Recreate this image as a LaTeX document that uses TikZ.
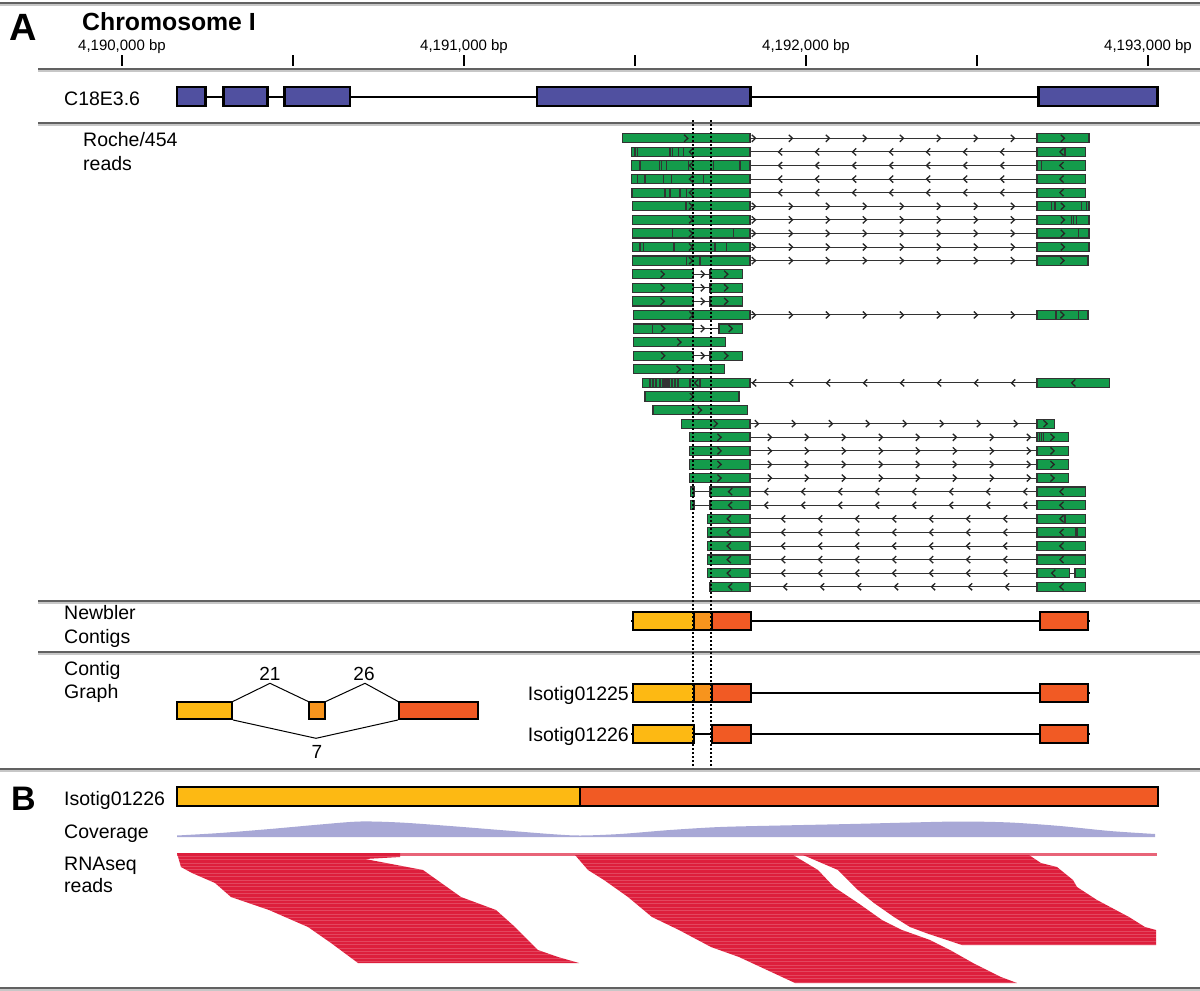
\documentclass[tikz,border=0pt]{standalone}
\usepackage{fontspec}
\setmainfont{Liberation Sans}
\usepackage{xcolor}
\usepackage{tikz}
\usetikzlibrary{positioning, calc}

\definecolor{genebl}{RGB}{80,80,160}
\definecolor{readgr}{RGB}{20,155,75}
\definecolor{cyellow}{RGB}{253,185,19}
\definecolor{corange}{RGB}{247,148,29}
\definecolor{cred}{RGB}{241,90,36}
\definecolor{covpurple}{RGB}{168,168,214}
\definecolor{rnared}{RGB}{221,30,60}
\definecolor{rnapink}{RGB}{232,100,120}

\newcommand{\fs}[1]{\fontsize{#1}{#1}\selectfont}

\begin{document}
\begin{tikzpicture}[x=1pt, y=-1pt,
  sepdark/.style={draw=black!62, line width=2.2},
  seplight/.style={draw=black!22, line width=1.6},
  lbl/.style={font=\fs{19.5}, inner sep=0pt, anchor=base west},
  ticklbl/.style={font=\fs{15}, inner sep=0pt, anchor=base},
  tickmark/.style={line width=2},
  exon/.style={draw=black, line width=2.2, fill=genebl},
  gline/.style={line width=2},
  readbox/.style={draw=black!80, line width=1.1, fill=readgr},
  intron/.style={draw=black!80, line width=1},
  chev/.style={draw=black!85, line width=1.3},
  snpline/.style={draw=black!80, line width=1.1},
  guide/.style={line width=2, dash pattern=on 2pt off 2pt},
  cbox/.style={draw=black, line width=2},
  cline/.style={line width=2},
  gnode/.style={draw=black, line width=1.8, inner sep=0pt, minimum height=16.7pt},
  gedge/.style={line width=1},
  num/.style={font=\fs{19}, inner sep=0pt, anchor=base}
]
\useasboundingbox (0,0) rectangle (1200,991);
\fill[white] (0,0) rectangle (1200,991);

% Panel separators
\foreach \yy/\xs in {3/0, 69/38, 123/38, 601/38, 652/38, 769/0, 988/0} {
  \draw[sepdark] (\xs,\yy) -- (1200,\yy);
  \draw[seplight] (\xs,{\yy+2}) -- (1200,{\yy+2});
}

% Panel letters and title
\node[font=\fs{38}\bfseries, inner sep=0pt, anchor=base west] (pa) at (9,40) {A};
\node[font=\fs{34}\bfseries, inner sep=0pt, anchor=base west] (pb) at (11,810) {B};
\node[font=\fs{24.8}\bfseries, inner sep=0pt, anchor=base west] (chr) at (82,30) {Chromosome I};

% Scale
\foreach \tx in {122,293,464,635,806,977,1148}
  \draw[tickmark] (\tx,55) -- (\tx,66);
\node[ticklbl] (t0) at (122,50) {4,190,000 bp};
\node[ticklbl] (t1) at (464,50) {4,191,000 bp};
\node[ticklbl] (t2) at (806,50) {4,192,000 bp};
\node[ticklbl] (t3) at (1148,50) {4,193,000 bp};

% Gene model
\node[lbl] (gene) at (64,105) {C18E3.6};
\draw[gline] (177,96.5) -- (1157,96.5);
\foreach \a/\b in {177/205.5, 223.5/267.5, 284.5/350, 537/750.5, 1038.5/1157.5}
  \draw[exon] (\a,87) rectangle (\b,106);

% Roche/454 reads
\node[lbl] (roche) at (83,146.7) {Roche/454};
\node[lbl] (roche2) at (83,170) {reads};
\foreach \i/\xa/\xb/\xc/\xd/\dir/\fa/\na in {
  1/622.7/750/1037/1089/1/754/8, 2/631.7/750/1037/1085.7/-1/780/7,
  3/631.7/750/1037/1085.7/-1/780/7, 4/631.7/750/1037/1085.7/-1/780/7,
  5/631.7/750/1037/1085.7/-1/780/7, 6/632.3/750/1037/1089/1/754/8,
  7/632.3/750/1037/1089/1/754/8, 8/632.3/750/1037/1089/1/754/8,
  9/632.3/750/1037/1089/1/754/8, 10/632.3/750/1037/1088/1/754/8,
  11/632.3/693.3/710/742.7/1/703/1, 12/632.3/693.3/710/742.7/1/703/1,
  13/632.3/693.3/710/742.7/1/703/1, 14/633.3/750/1037/1088/1/754/8,
  15/633.3/693.3/719/742.7/1/703/1, 17/633.3/693.3/710/742.7/1/703/1,
  19/642.3/750/1037/1109.3/-1/754/8, 22/681.7/750/1037/1054.3/1/757/8,
  23/689.3/750/1037/1068.3/1/770/8, 24/689.3/750/1037/1068.3/1/770/8,
  25/689.3/750/1037/1068.3/1/770/8, 26/689.3/750/1037/1068.3/1/770/8,
  27/710/750/1037/1085.7/-1/766/8, 28/710/750/1037/1085.7/-1/766/8,
  29/707.3/750/1037/1085.7/-1/783/7, 30/707.3/750/1037/1085.7/-1/783/7,
  31/707.3/750/1037/1085.7/-1/783/7, 32/707.3/750/1037/1085.7/-1/783/7,
  33/707.3/750/1037/1069.3/-1/783/7, 34/710/750/1037/1085.7/-1/785/7} {
  \pgfmathsetmacro{\yy}{138.3+13.59*(\i-1)}
  \draw[intron] (\xb,\yy) -- (\xc,\yy);
  \foreach \k in {1,...,\na} {
    \pgfmathsetmacro{\ax}{\fa+37*(\k-1)}
    \draw[chev] ({\ax-2.2*(\dir)},{\yy-3.5}) -- ({\ax+1.5*(\dir)},\yy) -- ({\ax-2.2*(\dir)},{\yy+3.5});
  }
  \draw[readbox] (\xa,{\yy-4.6}) rectangle (\xb,{\yy+4.6});
  \draw[readbox] (\xc,{\yy-4.6}) rectangle (\xd,{\yy+4.6});
  \pgfmathsetmacro{\ma}{(\xa+\xb)/2}
  \pgfmathsetmacro{\mb}{(\xc+\xd)/2}
  \draw[chev] ({\ma-2.2*(\dir)},{\yy-3.5}) -- ({\ma+1.5*(\dir)},\yy) -- ({\ma-2.2*(\dir)},{\yy+3.5});
  \draw[chev] ({\mb-2.2*(\dir)},{\yy-3.5}) -- ({\mb+1.5*(\dir)},\yy) -- ({\mb-2.2*(\dir)},{\yy+3.5});
}
% unspliced reads
\foreach \i/\xa/\xb in {16/633.3/725.7, 18/633.3/724.3, 20/645/739, 21/652.3/747.7} {
  \pgfmathsetmacro{\yy}{138.3+13.59*(\i-1)}
  \pgfmathsetmacro{\ma}{(\xa+\xb)/2}
  \draw[readbox] (\xa,{\yy-4.6}) rectangle (\xb,{\yy+4.6});
  \draw[chev] ({\ma-2.2},{\yy-3.5}) -- ({\ma+1.5},\yy) -- ({\ma-2.2},{\yy+3.5});
}
% short first blocks
\foreach \i in {27,28} {
  \pgfmathsetmacro{\yy}{138.3+13.59*(\i-1)}
  \draw[intron] (694,\yy) -- (710,\yy);
  \draw[readbox] (690.7,{\yy-4.6}) rectangle (694,{\yy+4.6});
}
\pgfmathsetmacro{\yy}{138.3+13.59*32}
\draw[intron] (1069.3,\yy) -- (1075,\yy);
\draw[readbox] (1075,{\yy-4.6}) rectangle (1085.7,{\yy+4.6});
% mismatches
\foreach \i/\mx in {2/635, 2/637.3, 2/670, 2/672.7, 2/678.3, 2/683.3, 2/1065,
  3/640, 3/659.3, 3/661.7, 3/666.7, 3/688.3, 3/713.3, 3/740, 3/1041.7,
  4/637.3, 4/645, 4/663.3, 4/671.7, 4/703.3,
  5/632.3, 5/665, 5/670, 5/680, 5/686.7,
  6/686, 6/1051.7, 6/1055, 6/1081.7, 6/1086.7,
  7/1071.7, 7/1073.3, 7/1076.7, 8/672.7, 8/733.3, 8/1078.3,
  9/640, 9/643.3, 9/674, 9/715, 9/726.7, 10/686.7, 10/700,
  14/1056, 14/1078.3, 15/652.3,
  19/650, 19/653, 19/656, 19/660, 19/663, 19/665, 19/667, 19/669,
  19/672, 19/675, 19/678, 19/690, 19/700, 21/653.3,
  23/1039.3, 23/1041.7, 23/1043.3, 29/1065, 30/1076, 30/1077} {
  \pgfmathsetmacro{\yy}{138.3+13.59*(\i-1)}
  \draw[snpline] (\mx,{\yy-4.6}) -- (\mx,{\yy+4.6});
}

% Newbler contigs
\node[lbl] (newb) at (64,619) {Newbler};
\node[lbl] (newb2) at (64,643) {Contigs};
% Isotigs
\node[lbl, anchor=base east] (iso5) at (629,700) {Isotig01225};
\node[lbl, anchor=base east] (iso6) at (629,741.5) {Isotig01226};
\foreach \yc/\mid in {621/1, 692.7/1, 734.3/0} {
  \draw[cline] (631,\yc) -- (1090,\yc);
  \draw[cbox, fill=cyellow] (633,{\yc-9}) rectangle (694,{\yc+9});
  \ifnum\mid=1
    \draw[cbox, fill=corange] (694,{\yc-9}) rectangle (711.5,{\yc+9});
  \fi
  \draw[cbox, fill=cred] (711.5,{\yc-9}) rectangle (750.5,{\yc+9});
  \draw[cbox, fill=cred] (1039.5,{\yc-9}) rectangle (1088,{\yc+9});
}

% Contig graph
\node[lbl] (cgr) at (64,675) {Contig};
\node[lbl] (cgr2) at (64,698) {Graph};
\node[gnode, fill=cyellow, minimum width=55pt] (cgA) at (204.5,710.7) {};
\node[gnode, fill=corange, minimum width=16pt] (cgB) at (317,710.7) {};
\node[gnode, fill=cred, minimum width=78.7pt] (cgC) at (438.3,710.7) {};
\coordinate (pk21) at (270,683.3);
\coordinate (pk26) at (365,683.3);
\coordinate (pk7) at (316,738.3);
\draw[gedge] (cgA.north east) -- (pk21) -- (cgB.north west);
\draw[gedge] (cgB.north east) -- (pk26) -- (cgC.north west);
\draw[gedge] (cgA.south east) -- (pk7) -- (cgC.south west);
\node[num] (n21) at (270,680) {21};
\node[num] (n26) at (364,680) {26};
\node[num] (n7) at (317,758) {7};

% Splice site guides
\coordinate (ga) at (693.3,120);
\coordinate (gb) at (710.7,120);
\draw[guide] (ga) -- (ga |- 0,768);
\draw[guide] (gb) -- (gb |- 0,768);

% Panel B
\node[lbl] (isoB) at (64,805) {Isotig01226};
\node[lbl] (cov) at (64,838) {Coverage};
\node[lbl] (rna) at (64,870) {RNAseq};
\node[lbl] (rna2) at (64,892) {reads};
\draw[cbox, fill=cyellow] (177,786.7) rectangle (580,806);
\draw[cbox, fill=cred] (580,786.7) rectangle (1157.5,806);

% coverage
\fill[covpurple] (177,837) -- plot[smooth] coordinates {(177,835.5) (220,833) (270,829)
  (320,824.5) (360,821.5) (400,822.5) (450,826) (500,830) (550,834) (580,835.5)
  (620,834) (670,830) (720,827) (780,825.5) (850,824) (910,822.5) (961,821.5)
  (1010,822.5) (1060,826) (1110,831) (1155,834)} -- (1155,837) -- cycle;

% RNAseq reads
\fill[rnapink] (177,852.5) rectangle (1157,855.5);
\begin{scope}
\path[clip] (177,853) -- (400,853) -- (400,857) -- (365,859) -- (423,870) -- (461,897)
  -- (496,910) -- (515,927) -- (538,950) -- (558,957) -- (579,963) -- (358,963)
  -- (331,943) -- (308,927) -- (269,910) -- (231,897) -- (215,883) -- (192,873)
  -- (181,867) -- cycle
  (575,855) -- (793,855) -- (818,870) -- (834,887) -- (858,903) -- (882,920)
  -- (902,930) -- (930,940) -- (950,950) -- (973,963) -- (1001,977) -- (1017,983)
  -- (795,983) -- (767,970) -- (739,957) -- (711,947) -- (679,930) -- (652,917)
  -- (628,897) -- (604,880) -- (588,870) -- cycle
  (803,855) -- (1029,855) -- (1041,863) -- (1057,867) -- (1073,880) -- (1077,887)
  -- (1097,900) -- (1129,917) -- (1145,927) -- (1156,930) -- (1156,945) -- (962,945)
  -- (956,943) -- (926,933) -- (910,927) -- (894,917) -- (874,903) -- (858,890)
  -- (838,870) -- cycle;
\fill[rnared] (170,850) rectangle (1160,990);
\foreach \yy in {856,859.4,...,984}
  \draw[white, opacity=0.18, line width=0.6] (170,\yy) -- (1160,\yy);
\end{scope}
\end{tikzpicture}
\end{document}
